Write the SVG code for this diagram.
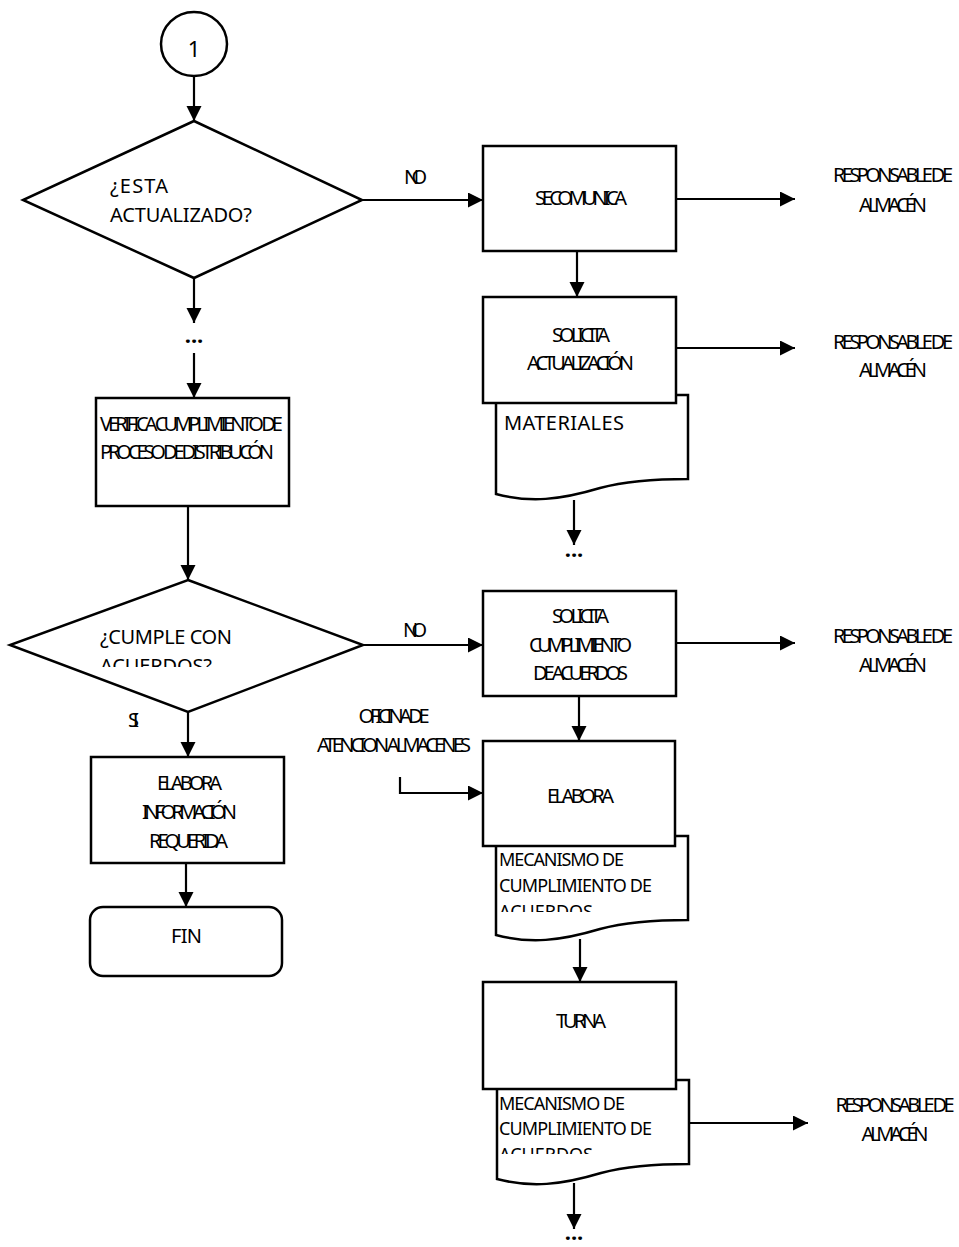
<svg xmlns="http://www.w3.org/2000/svg" width="959" height="1247" viewBox="0 0 959 1247">
<style>
.s{fill:#fff;stroke:#000;stroke-width:2.5}
.ln{fill:none;stroke:#000;stroke-width:2.2}
.t{font-family:"Noto Sans","Open Sans",sans-serif;font-size:20px;fill:#000}
.d{font-size:18px}
.m{text-anchor:middle}
.dots{font-family:"Noto Sans",sans-serif;font-size:22px;font-weight:bold;text-anchor:middle}
</style>
<defs>
<marker id="ah" markerUnits="userSpaceOnUse" markerWidth="16" markerHeight="16" refX="15" refY="7.5" orient="auto">
<path d="M0,0 L15,7.5 L0,15 Z" fill="#000"/>
</marker>
<clipPath id="c1"><rect x="0" y="600" width="400" height="67"/></clipPath>
<clipPath id="c2"><rect x="490" y="840" width="200" height="72"/></clipPath>
<clipPath id="c3"><rect x="490" y="1085" width="200" height="69"/></clipPath>
<path id="docshape" d="M496,395 L688,395 L688,479 C660,479 630,480 600,488 C560,500 530,503 496,494 Z"/>
</defs>

<g id="connectors">
<line class="ln" x1="194" y1="77" x2="194" y2="121" marker-end="url(#ah)"/>
<line class="ln" x1="362" y1="200" x2="483" y2="200" marker-end="url(#ah)"/>
<line class="ln" x1="676" y1="199" x2="795" y2="199" marker-end="url(#ah)"/>
<line class="ln" x1="577" y1="251" x2="577" y2="297" marker-end="url(#ah)"/>
<line class="ln" x1="676" y1="348" x2="795" y2="348" marker-end="url(#ah)"/>
<line class="ln" x1="574" y1="500" x2="574" y2="545" marker-end="url(#ah)"/>
<line class="ln" x1="194" y1="278" x2="194" y2="323" marker-end="url(#ah)"/>
<line class="ln" x1="194" y1="353" x2="194" y2="398" marker-end="url(#ah)"/>
<line class="ln" x1="188" y1="506" x2="188" y2="580" marker-end="url(#ah)"/>
<line class="ln" x1="363" y1="645" x2="483" y2="645" marker-end="url(#ah)"/>
<line class="ln" x1="676" y1="643" x2="795" y2="643" marker-end="url(#ah)"/>
<line class="ln" x1="188" y1="712" x2="188" y2="757" marker-end="url(#ah)"/>
<line class="ln" x1="186" y1="863" x2="186" y2="907" marker-end="url(#ah)"/>
<line class="ln" x1="579" y1="696" x2="579" y2="741" marker-end="url(#ah)"/>
<polyline class="ln" points="400,777 400,793 483,793" marker-end="url(#ah)"/>
<line class="ln" x1="580" y1="939" x2="580" y2="982" marker-end="url(#ah)"/>
<line class="ln" x1="689" y1="1123" x2="808" y2="1123" marker-end="url(#ah)"/>
<line class="ln" x1="574" y1="1183" x2="574" y2="1229" marker-end="url(#ah)"/>
</g>

<g id="labels">
<text class="t" x="404" y="184" textLength="23" lengthAdjust="spacing">NO</text>
<text class="t" x="403" y="637" textLength="24" lengthAdjust="spacing">NO</text>
<text class="t" x="128" y="727" textLength="11" lengthAdjust="spacing">SI</text>
<text class="dots" x="194" y="343">...</text>
<text class="dots" x="574" y="557">...</text>
<text class="dots" x="574" y="1240">...</text>
</g>

<g id="n-start">
<ellipse class="s" cx="194" cy="44" rx="33" ry="32"/>
<text class="t m" x="194" y="57" style="font-size:22px">1</text>
</g>

<g id="n-dec1">
<polygon class="s" points="194,121 362,200 194,278 23,200"/>
<text class="t" x="110" y="193" textLength="58" lengthAdjust="spacing">¿ESTA</text>
<text class="t" x="110" y="222" textLength="142" lengthAdjust="spacing">ACTUALIZADO?</text>
</g>

<g id="n-comunica">
<rect class="s" x="483" y="146" width="193" height="105"/>
<text class="t" x="535" y="205" textLength="92" lengthAdjust="spacing">SE COMUNICA</text>
</g>

<g id="n-resp1">
<text class="t m" x="893" y="182" textLength="120" lengthAdjust="spacing">RESPONSABLE DE</text>
<text class="t m" x="893" y="212" textLength="68" lengthAdjust="spacing">ALMACÉN</text>
</g>

<g id="n-doc-materiales">
<use href="#docshape" class="s"/>
<text class="t" x="504" y="430" textLength="120" lengthAdjust="spacing">MATERIALES</text>
</g>

<g id="n-solicita1">
<rect class="s" x="483" y="297" width="193" height="106"/>
<text class="t" x="552" y="342" textLength="58" lengthAdjust="spacing">SOLICITA</text>
<text class="t" x="527" y="370" textLength="107" lengthAdjust="spacing">ACTUALIZACIÓN</text>
</g>

<g id="n-resp2">
<text class="t m" x="893" y="349" textLength="120" lengthAdjust="spacing">RESPONSABLE DE</text>
<text class="t m" x="893" y="377" textLength="68" lengthAdjust="spacing">ALMACÉN</text>
</g>

<g id="n-verifica">
<rect class="s" x="96" y="398" width="193" height="108"/>
<text class="t" x="100" y="431" textLength="183" lengthAdjust="spacing">VERIFICA CUMPLIMIENTO DE</text>
<text class="t" x="100" y="459" textLength="174" lengthAdjust="spacing">PROCESO DE DISTRIBUCÓN</text>
</g>

<g id="n-dec2">
<polygon class="s" points="188,580 363,645 188,712 10,645"/>
<text class="t" x="100" y="644" textLength="132" lengthAdjust="spacing">¿CUMPLE CON</text>
<text class="t" x="100" y="673" clip-path="url(#c1)" textLength="112" lengthAdjust="spacing">ACUERDOS?</text>
</g>

<g id="n-solicita2">
<rect class="s" x="483" y="591" width="193" height="105"/>
<text class="t" x="552" y="623" textLength="57" lengthAdjust="spacing">SOLICITA</text>
<text class="t" x="529" y="652" textLength="103" lengthAdjust="spacing">CUMPLIMIENTO</text>
<text class="t" x="533" y="680" textLength="95" lengthAdjust="spacing">DE ACUERDOS</text>
</g>

<g id="n-resp3">
<text class="t m" x="893" y="643" textLength="120" lengthAdjust="spacing">RESPONSABLE DE</text>
<text class="t m" x="893" y="672" textLength="68" lengthAdjust="spacing">ALMACÉN</text>
</g>

<g id="n-elabora-info">
<rect class="s" x="91" y="757" width="193" height="106"/>
<text class="t" x="157" y="790" textLength="65" lengthAdjust="spacing">ELABORA</text>
<text class="t" x="142" y="819" textLength="95" lengthAdjust="spacing">INFORMACIÓN</text>
<text class="t" x="149" y="848" textLength="79" lengthAdjust="spacing">REQUERIDA</text>
</g>

<g id="n-fin">
<rect class="s" x="90" y="907" width="192" height="69" rx="13" ry="13"/>
<text class="t" x="171" y="943" textLength="31" lengthAdjust="spacing">FIN</text>
</g>

<g id="n-oficina">
<text class="t m" x="394" y="723" textLength="71" lengthAdjust="spacing">OFICINA DE</text>
<text class="t m" x="394" y="752" textLength="154" lengthAdjust="spacing">ATENCION ALMACENES</text>
</g>

<g id="n-doc-mecanismo1">
<use href="#docshape" class="s" transform="translate(0,441)"/>
<text class="t d" x="499" y="866" textLength="125" lengthAdjust="spacing">MECANISMO DE</text>
<text class="t d" x="499" y="892" textLength="153" lengthAdjust="spacing">CUMPLIMIENTO DE</text>
<text class="t d" x="499" y="918" clip-path="url(#c2)">ACUERDOS</text>
</g>

<g id="n-elabora">
<rect class="s" x="483" y="741" width="192" height="105"/>
<text class="t" x="547" y="803" textLength="67" lengthAdjust="spacing">ELABORA</text>
</g>

<g id="n-doc-mecanismo2">
<use href="#docshape" class="s" transform="translate(1,685)"/>
<text class="t d" x="499" y="1110" textLength="126" lengthAdjust="spacing">MECANISMO DE</text>
<text class="t d" x="499" y="1135" textLength="153" lengthAdjust="spacing">CUMPLIMIENTO DE</text>
<text class="t d" x="499" y="1161" clip-path="url(#c3)">ACUERDOS</text>
</g>

<g id="n-turna">
<rect class="s" x="483" y="982" width="193" height="107"/>
<text class="t" x="556" y="1028" textLength="50" lengthAdjust="spacing">TURNA</text>
</g>

<g id="n-resp4">
<text class="t m" x="895" y="1112" textLength="119" lengthAdjust="spacing">RESPONSABLE DE</text>
<text class="t m" x="895" y="1141" textLength="67" lengthAdjust="spacing">ALMACÉN</text>
</g>
</svg>
